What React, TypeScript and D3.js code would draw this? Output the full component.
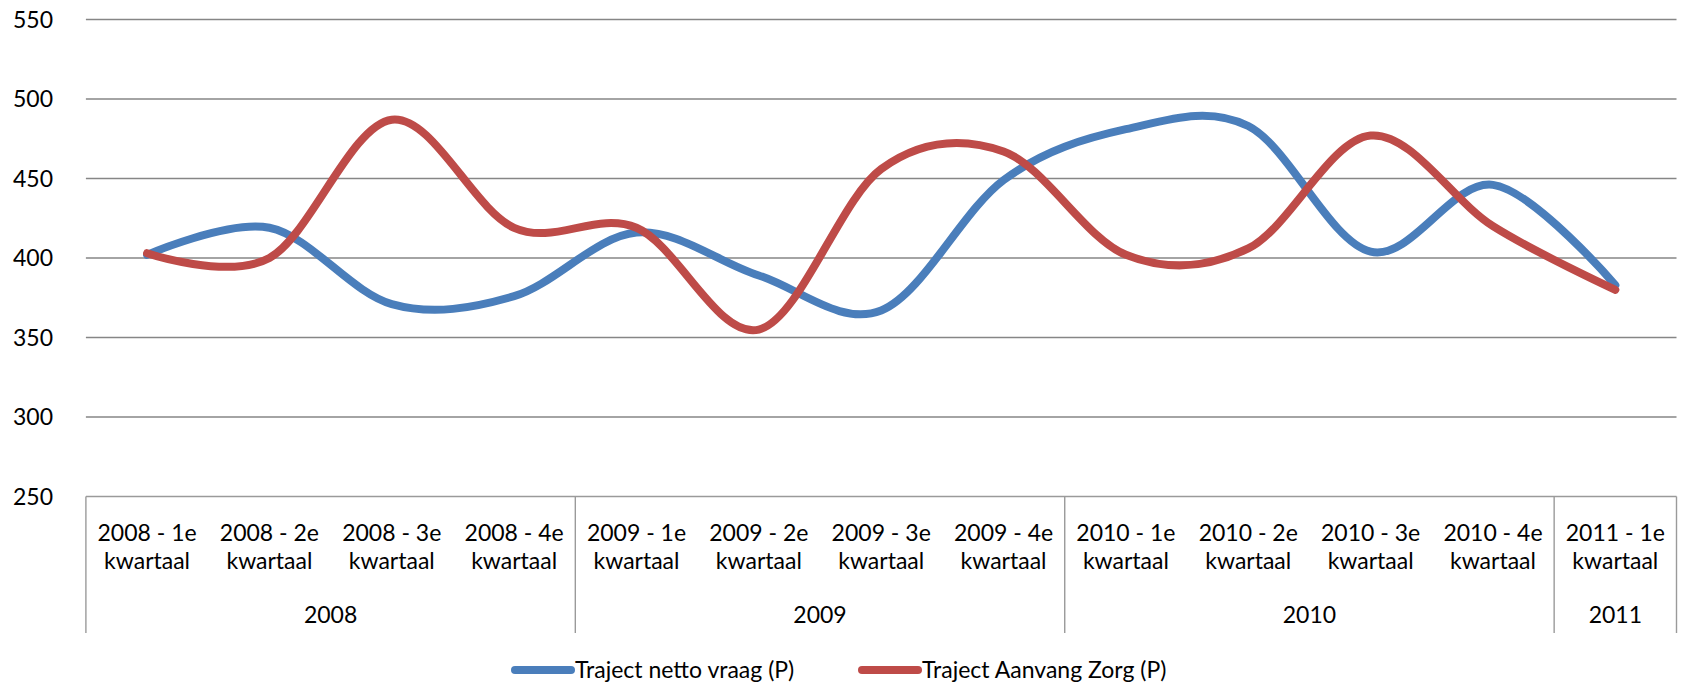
import React from "react";
import * as d3 from "d3";

const quarters = [
  "2008 - 1e", "2008 - 2e", "2008 - 3e", "2008 - 4e",
  "2009 - 1e", "2009 - 2e", "2009 - 3e", "2009 - 4e",
  "2010 - 1e", "2010 - 2e", "2010 - 3e", "2010 - 4e",
  "2011 - 1e",
];
const quarterSub = "kwartaal";
const years = ["2008", "2009", "2010", "2011"];
const yearCounts = [4, 4, 4, 1];

const nettoVraag = [402, 419, 371, 376, 416, 389, 367, 449, 481, 483, 404, 446, 383];
const aanvangZorg = [403, 400, 487, 419, 419, 355, 456, 467, 402, 406, 477, 420, 380];

const seriesNames = ["Traject netto vraag (P)", "Traject Aanvang Zorg (P)"];
const seriesColors = ["#4A7EBB", "#BE4B48"];
const yTicks = [250, 300, 350, 400, 450, 500, 550];

const W = 1683;
const H = 683;
const left = 85.9;
const right = 1676.5;
const top = 19.5;
const bottom = 496.5;
const FONT = "Lato, 'Open Sans', sans-serif";
const FS = 23;

export default function App() {
  const x = d3.scalePoint<number>().domain(quarters.map((_, i) => i)).range([left, right]).padding(0.5);
  const step = x.step();
  const y = d3.scaleLinear().domain([250, 550]).range([bottom, top]);
  const line = d3
    .line<number>()
    .x((_, i) => x(i) as number)
    .y((d) => y(d))
    .curve(d3.curveCatmullRom.alpha(0));

  const boxBottom = 633;
  const dividers: number[] = [left];
  let acc = 0;
  yearCounts.forEach((c) => {
    acc += c;
    dividers.push(left + acc * step);
  });

  const legendItems = [
    { x1: 515, x2: 571, tx: 575 },
    { x1: 862, x2: 918, tx: 922 },
  ];

  return (
    <svg width={W} height={H} style={{ position: "absolute", left: 0, top: 0, background: "#fff" }}>
      {yTicks.map((t) => (
        <g key={t}>
          {t !== 250 && (
            <line x1={left} x2={right} y1={y(t)} y2={y(t)} stroke="#868686" strokeWidth={1.4} />
          )}
          <text x={53} y={y(t)} dy="0.35em" textAnchor="end" fontFamily={FONT} fontSize={FS} fill="#000">
            {t}
          </text>
        </g>
      ))}
      {/* category axis box */}
      <line x1={left} x2={right} y1={bottom} y2={bottom} stroke="#9a9a9a" strokeWidth={1.4} />
      {dividers.map((dx, i) => (
        <line key={i} x1={dx} x2={dx} y1={bottom} y2={boxBottom} stroke="#9a9a9a" strokeWidth={1.4} />
      ))}
      {quarters.map((q, i) => (
        <g key={q}>
          <text x={x(i)} y={533} dy="0.35em" textAnchor="middle" fontFamily={FONT} fontSize={FS} fill="#000">
            {q}
          </text>
          <text x={x(i)} y={561} dy="0.35em" textAnchor="middle" fontFamily={FONT} fontSize={FS} fill="#000">
            {quarterSub}
          </text>
        </g>
      ))}
      {years.map((yr, i) => (
        <text
          key={yr}
          x={(dividers[i] + dividers[i + 1]) / 2}
          y={615}
          dy="0.35em"
          textAnchor="middle"
          fontFamily={FONT}
          fontSize={FS}
          fill="#000"
        >
          {yr}
        </text>
      ))}
      {[nettoVraag, aanvangZorg].map((s, k) => (
        <path
          key={k}
          d={line(s) || ""}
          fill="none"
          stroke={seriesColors[k]}
          strokeWidth={8}
          strokeLinecap="round"
          strokeLinejoin="round"
        />
      ))}
      {legendItems.map((l, k) => (
        <g key={k}>
          <line x1={l.x1} x2={l.x2} y1={670} y2={670} stroke={seriesColors[k]} strokeWidth={8} strokeLinecap="round" />
          <text x={l.tx} y={670} dy="0.35em" fontFamily={FONT} fontSize={FS} fill="#000">
            {seriesNames[k]}
          </text>
        </g>
      ))}
    </svg>
  );
}
